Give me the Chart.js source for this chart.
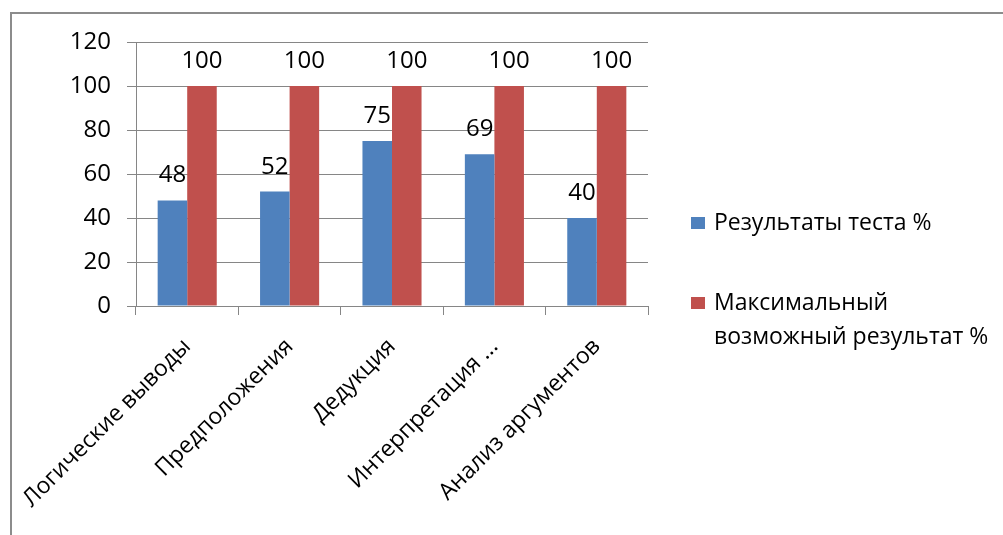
<!DOCTYPE html>
<html>
<head>
<meta charset="utf-8">
<script src="https://cdn.jsdelivr.net/npm/chart.js@4.4.1/dist/chart.umd.min.js"></script>
<style>
    html, body { margin: 0; padding: 0; background: #fff; }
    #wrap { width: 1003px; height: 535px; }
</style>
</head>
<body>
<div id="wrap"><canvas id="testChart" width="1003" height="535"></canvas></div>
<script>
// Categories and series
const categories = ['Логические выводы', 'Предположения', 'Дедукция', 'Интерпретация ...', 'Анализ аргументов'];
const testResults = [48, 52, 75, 69, 40];
const maxResults = [100, 100, 100, 100, 100];
const seriesNames = ['Результаты теста %', ['Максимальный', 'возможный результат %']];
const yTicks = [0, 20, 40, 60, 80, 100, 120];

const FONT = '"Open Sans", "Liberation Sans", sans-serif';
const TEXT = '#000';
const GRID = '#868686';

// Outer frame of the chart
const framePlugin = {
    id: 'frame',
    beforeDraw(chart) {
        const c = chart.ctx;
        c.save();
        c.strokeStyle = '#8c8c8c';
        c.lineWidth = 2;
        c.beginPath();
        c.moveTo(11, chart.height + 5);
        c.lineTo(11, 13);
        c.lineTo(chart.width + 5, 13);
        c.stroke();
        c.restore();
    }
};

// Value labels above each bar
const valueLabels = {
    id: 'valueLabels',
    afterDatasetsDraw(chart) {
        const c = chart.ctx;
        c.save();
        c.font = '24px ' + FONT;
        c.fillStyle = TEXT;
        c.textAlign = 'center';
        c.textBaseline = 'alphabetic';
        chart.data.datasets.forEach((ds, i) => {
            chart.getDatasetMeta(i).data.forEach((bar, j) => {
                c.fillText(ds.data[j], bar.x, bar.y - 18);
            });
        });
        c.restore();
    }
};

// Legend on the right, labels may wrap to two lines
const sideLegend = {
    id: 'sideLegend',
    afterDraw(chart) {
        const c = chart.ctx;
        const rows = [223, 303];
        c.save();
        c.font = '23px ' + FONT;
        c.textBaseline = 'middle';
        chart.data.datasets.forEach((ds, i) => {
            const y = rows[i];
            c.fillStyle = ds.backgroundColor;
            c.fillRect(691, y - 6, 14, 12);
            c.fillStyle = TEXT;
            const lines = [].concat(seriesNames[i]);
            lines.forEach((line, k) => c.fillText(line, 714, y + k * 34));
        });
        c.restore();
    }
};

new Chart(document.getElementById('testChart'), {
    type: 'bar',
    data: {
        labels: categories,
        datasets: [
            { label: 'Результаты теста %', data: testResults, backgroundColor: '#4f81bd' },
            { label: 'Максимальный возможный результат %', data: maxResults, backgroundColor: '#c0504d' }
        ]
    },
    options: {
        responsive: false,
        animation: false,
        devicePixelRatio: 1,
        layout: { padding: { left: 0, top: 42, right: 355, bottom: 0 } },
        datasets: {
            bar: { barPercentage: 1, categoryPercentage: 0.577 }
        },
        plugins: {
            legend: { display: false },
            tooltip: { enabled: false }
        },
        scales: {
            y: {
                min: 0,
                max: 120,
                afterBuildTicks: scale => { scale.ticks = yTicks.map(v => ({ value: v })); },
                afterFit: scale => { scale.width = 136; },
                border: { display: true, color: GRID, width: 1 },
                grid: { color: GRID, lineWidth: 1, tickLength: 9 },
                ticks: { color: TEXT, padding: 16, font: { family: FONT, size: 24 } }
            },
            x: {
                afterFit: scale => {
                    scale.height = 229;
                    scale.paddingLeft = 0;
                    scale.paddingRight = 0;
                },
                border: { display: true, color: GRID, width: 1 },
                grid: { offset: true, drawOnChartArea: false, color: GRID, tickLength: 9 },
                ticks: {
                    color: TEXT,
                    autoSkip: false,
                    minRotation: 45,
                    maxRotation: 45,
                    padding: 18,
                    font: { family: FONT, size: 23 }
                }
            }
        }
    },
    plugins: [framePlugin, valueLabels, sideLegend]
});
</script>
</body>
</html>
